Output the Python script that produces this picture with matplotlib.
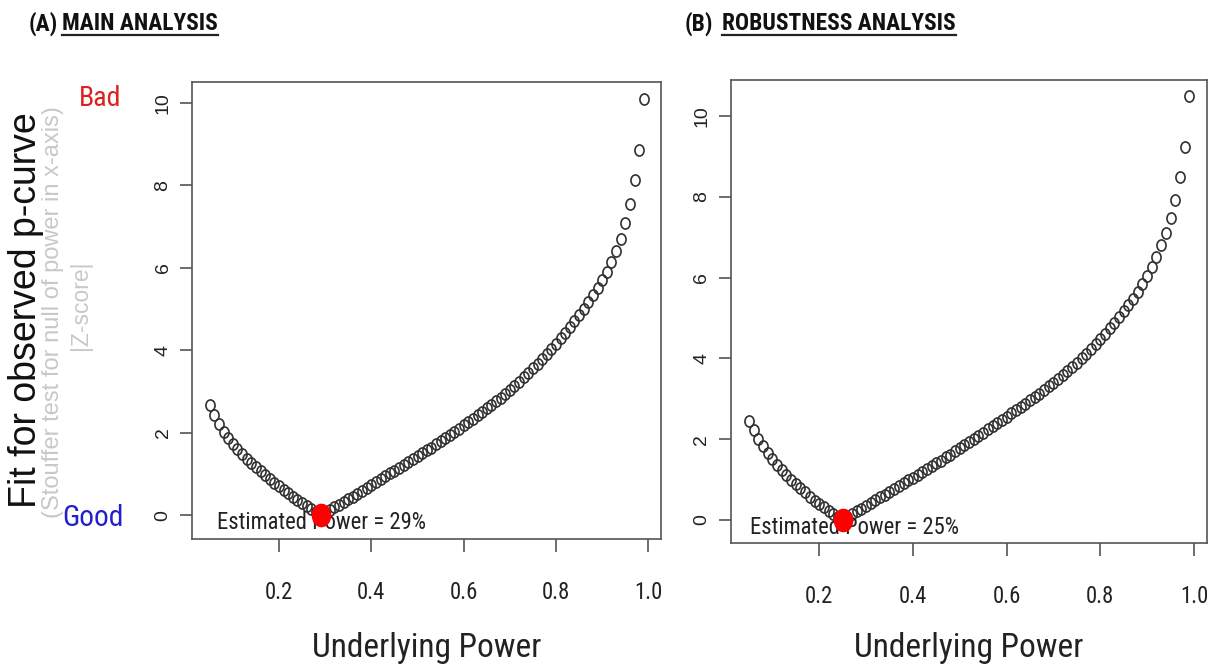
import numpy as np
import matplotlib
matplotlib.use('Agg')
import matplotlib.pyplot as plt
from matplotlib import font_manager
from matplotlib.lines import Line2D
from matplotlib.path import Path

# power grid used for both fits
power = [0.05, 0.06, 0.07, 0.08, 0.09, 0.10, 0.11, 0.12, 0.13, 0.14,
         0.15, 0.16, 0.17, 0.18, 0.19, 0.20, 0.21, 0.22, 0.23, 0.24,
         0.25, 0.26, 0.27, 0.28, 0.29, 0.30, 0.31, 0.32, 0.33, 0.34,
         0.35, 0.36, 0.37, 0.38, 0.39, 0.40, 0.41, 0.42, 0.43, 0.44,
         0.45, 0.46, 0.47, 0.48, 0.49, 0.50, 0.51, 0.52, 0.53, 0.54,
         0.55, 0.56, 0.57, 0.58, 0.59, 0.60, 0.61, 0.62, 0.63, 0.64,
         0.65, 0.66, 0.67, 0.68, 0.69, 0.70, 0.71, 0.72, 0.73, 0.74,
         0.75, 0.76, 0.77, 0.78, 0.79, 0.80, 0.81, 0.82, 0.83, 0.84,
         0.85, 0.86, 0.87, 0.88, 0.89, 0.90, 0.91, 0.92, 0.93, 0.94,
         0.95, 0.96, 0.97, 0.98, 0.99]

# |Z| of the Stouffer test, main analysis
fit_main = [2.67, 2.42, 2.20, 2.02, 1.86, 1.72, 1.60, 1.48, 1.37, 1.26,
            1.16, 1.06, 0.97, 0.88, 0.79, 0.70, 0.61, 0.53, 0.45, 0.37,
            0.29, 0.22, 0.15, 0.08, 0.01, 0.06, 0.12, 0.19, 0.25, 0.32,
            0.38, 0.45, 0.52, 0.59, 0.66, 0.73, 0.80, 0.87, 0.94, 1.01,
            1.08, 1.15, 1.22, 1.29, 1.36, 1.43, 1.50, 1.57, 1.64, 1.72,
            1.79, 1.87, 1.94, 2.02, 2.10, 2.18, 2.26, 2.34, 2.42, 2.50,
            2.59, 2.67, 2.76, 2.85, 2.94, 3.04, 3.14, 3.24, 3.34, 3.45,
            3.56, 3.67, 3.79, 3.91, 4.03, 4.16, 4.29, 4.42, 4.56, 4.70,
            4.85, 5.00, 5.16, 5.33, 5.51, 5.70, 5.91, 6.14, 6.41, 6.71,
            7.09, 7.54, 8.12, 8.87, 10.09]

# |Z| of the Stouffer test, robustness analysis
fit_robust = [2.46, 2.22, 2.01, 1.83, 1.66, 1.51, 1.37, 1.24, 1.12, 1.00,
              0.89, 0.78, 0.68, 0.58, 0.48, 0.39, 0.31, 0.23, 0.15, 0.07,
              0.01, 0.08, 0.14, 0.21, 0.28, 0.35, 0.42, 0.49, 0.56, 0.63,
              0.70, 0.77, 0.84, 0.91, 0.98, 1.05, 1.12, 1.19, 1.26, 1.33,
              1.40, 1.47, 1.55, 1.62, 1.70, 1.77, 1.85, 1.92, 2.00, 2.08,
              2.16, 2.24, 2.32, 2.40, 2.48, 2.56, 2.64, 2.72, 2.80, 2.88,
              2.96, 3.05, 3.13, 3.22, 3.31, 3.40, 3.49, 3.58, 3.68, 3.78,
              3.89, 4.00, 4.11, 4.23, 4.35, 4.47, 4.60, 4.74, 4.88, 5.02,
              5.17, 5.32, 5.48, 5.65, 5.84, 6.05, 6.27, 6.52, 6.81, 7.11,
              7.47, 7.92, 8.50, 9.24, 10.50]

est_main = 0.29
est_robust = 0.25

x_ticks = [0.2, 0.4, 0.6, 0.8, 1.0]
x_labels = ['0.2', '0.4', '0.6', '0.8', '1.0']
y_ticks = [0, 2, 4, 6, 8, 10]
y_labels = ['0', '2', '4', '6', '8', '10']

W, H = 1215, 668
REG = 'Liberation Sans'


def pick_narrow():
    # horizontal text is squeezed, so prefer a narrow face when one exists
    fonts = font_manager.fontManager.ttflist
    names = {f.name for f in fonts}
    for n, k in [('Liberation Sans Narrow', 1.0), ('Arial Narrow', 1.0),
                 ('Roboto Condensed', 0.96)]:
        if n in names:
            return {'family': n}, k
    if any(f.name == 'DejaVu Sans' and 'condensed' in str(f.stretch) for f in fonts):
        return {'family': 'DejaVu Sans', 'stretch': 'condensed'}, 0.88
    return {'family': REG}, 0.9


NFONT, NS = pick_narrow()

fig = plt.figure(figsize=(W / 100, H / 100), dpi=100)
renderer = fig.canvas.get_renderer()


def fx(px):
    return px / W


def fy(py):
    return 1 - py / H


# circles come out as tall ovals in this layout
circ = Path.unit_circle()
oval = Path(circ.vertices * [0.82, 1.0], circ.codes)

GREY = '#555555'


def panel(box, fit, est, ylim, text_x):
    left, top, right, bottom = box
    ax = fig.add_axes([fx(left), fy(bottom), fx(right - left), (bottom - top) / H])
    ax.plot(power, fit, linestyle='none', marker=oval, ms=8, mfc='none',
            mec='#303030', mew=1.2, zorder=2)
    i = int(np.argmin(np.abs(np.array(power) - est)))
    ax.text(text_x, -0.19, 'Estimated Power = %d%%' % round(est * 100),
            ha='left', va='center', fontsize=17 * NS, color='#222222',
            zorder=3, **NFONT)
    ax.plot([power[i]], [fit[i]], linestyle='none', marker=oval, ms=16,
            mfc='#ff0000', mec='#ff0000', zorder=4)
    ax.set_xlim(0.0124, 1.0276)
    ax.set_ylim(*ylim)
    ax.set_xticks(x_ticks)
    ax.set_xticklabels(x_labels, fontsize=17 * NS, color='#222222', **NFONT)
    ax.set_yticks(y_ticks)
    ax.set_yticklabels(y_labels, fontsize=14, family=REG, color='#222222',
                       rotation=90, va='center', ha='right')
    ax.tick_params(axis='x', direction='out', length=9, width=1.2, color=GREY, pad=21)
    ax.tick_params(axis='y', direction='out', length=9, width=1.2, color=GREY, pad=6)
    for s in ax.spines.values():
        s.set_color(GREY)
        s.set_linewidth(1.2)
    cx = (left + right) / 2
    fig.text(fx(cx), fy(648), 'Underlying Power', ha='center', va='center',
             fontsize=25 * NS, color='#222222', **NFONT)
    return ax


panel((192.4, 82, 661.1, 539), fit_main, est_main, (-0.58, 10.51), 0.065)
panel((731.3, 80, 1206.9, 543), fit_robust, est_robust, (-0.57, 10.89), 0.052)

# panel headings, underlined under the heading words only
for tag, head, x_tag, x_head in [('(A)', 'MAIN ANALYSIS', 29, 62),
                                  ('(B)', 'ROBUSTNESS ANALYSIS', 685, 722)]:
    fig.text(fx(x_tag), fy(24), tag, ha='left', va='center', fontsize=17.5 * NS,
             weight='bold', color='#111111', **NFONT)
    t = fig.text(fx(x_head), fy(24), head, ha='left', va='center', fontsize=17.5 * NS,
                 weight='bold', color='#111111', **NFONT)
    bb = t.get_window_extent(renderer)
    fig.add_artist(Line2D([fx(x_head), fx(x_head + bb.width)], [fy(35), fy(35)],
                          transform=fig.transFigure, color='#222222', lw=1.6))

# y axis title block on the left
fig.text(fx(26), fy(310), 'Fit for observed p-curve', rotation=90, ha='center',
         va='center', fontsize=27, family=REG, color='#111111')
fig.text(fx(53), fy(312), '(Stouffer test for null of power in x-axis)', rotation=90,
         ha='center', va='center', fontsize=17, family=REG, color='#c8c8c8')
fig.text(fx(81), fy(305), '|Z-score|', rotation=90, ha='center', va='center',
         fontsize=16.5, family=REG, color='#c8c8c8')
fig.text(fx(100), fy(99), 'Bad', ha='center', va='center', fontsize=21 * NS,
         color='#dd2020', **NFONT)
fig.text(fx(93), fy(518), 'Good', ha='center', va='center', fontsize=22 * NS,
         color='#2020cc', **NFONT)

fig.savefig('out.png', dpi=100)
